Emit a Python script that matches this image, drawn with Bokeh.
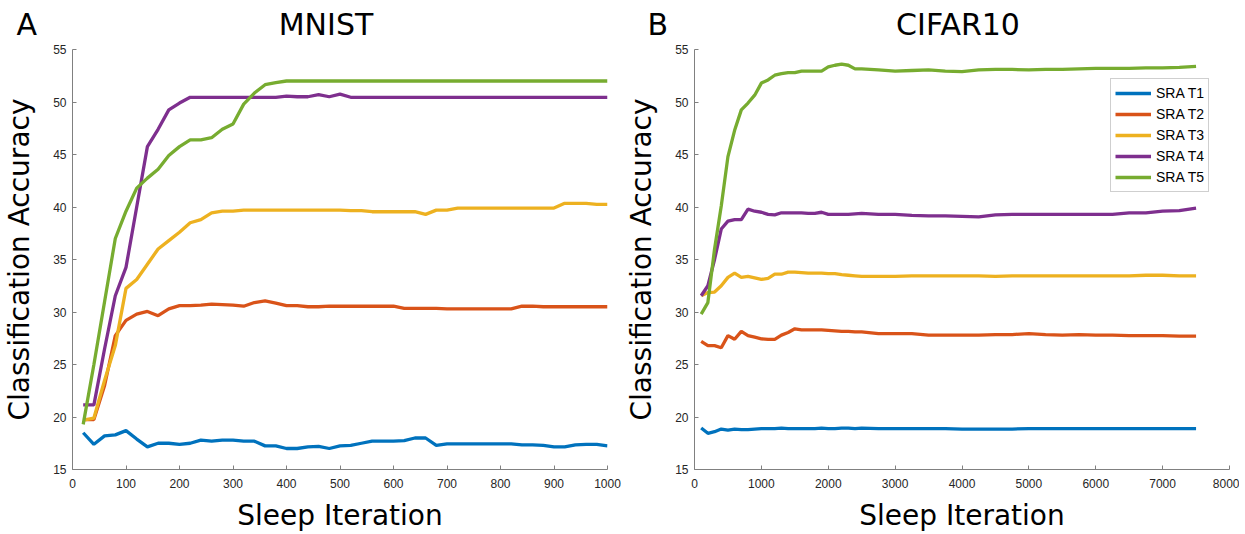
from bokeh.plotting import figure
from bokeh.layouts import row, column
from bokeh.models import Legend, LegendItem, FixedTicker, Range1d
from bokeh.core.properties import value
from bokeh.embed import file_html
from bokeh.resources import INLINE

# ---------------- data ----------------
series_names = ["SRA T1", "SRA T2", "SRA T3", "SRA T4", "SRA T5"]
colors = ["#0072BD", "#D95319", "#EDB120", "#7E2F8E", "#77AC30"]
panel_letters = ["A", "B"]
panel_titles = ["MNIST", "CIFAR10"]

mnist_iter = list(range(20, 1001, 20))
mnist_t1 = [18.5, 17.4, 18.2, 18.3, 18.7, 17.9, 17.15, 17.5, 17.5, 17.4,
            17.5, 17.8, 17.7, 17.8, 17.8, 17.7, 17.7, 17.25, 17.25, 17.0,
            17.0, 17.15, 17.2, 17.0, 17.25, 17.3, 17.5, 17.7, 17.7, 17.7,
            17.75, 18.0, 18.0, 17.3, 17.45, 17.45, 17.45, 17.45, 17.45, 17.45,
            17.45, 17.35, 17.35, 17.3, 17.15, 17.15, 17.35, 17.4, 17.4, 17.25]
mnist_t2 = [19.75, 19.75, 23.0, 27.75, 29.2, 29.8, 30.05, 29.65, 30.3, 30.6,
            30.6, 30.65, 30.75, 30.7, 30.65, 30.55, 30.9, 31.05, 30.85, 30.6,
            30.6, 30.5, 30.5, 30.55, 30.55, 30.55, 30.55, 30.55, 30.55, 30.55,
            30.35, 30.35, 30.35, 30.35, 30.3, 30.3, 30.3, 30.3, 30.3, 30.3,
            30.3, 30.55, 30.55, 30.5, 30.5, 30.5, 30.5, 30.5, 30.5, 30.5]
mnist_t3 = [19.7, 19.9, 23.5, 26.8, 32.25, 33.1, 34.55, 36.0, 36.8, 37.6,
            38.5, 38.8, 39.45, 39.6, 39.6, 39.7, 39.7, 39.7, 39.7, 39.7,
            39.7, 39.7, 39.7, 39.7, 39.7, 39.65, 39.65, 39.55, 39.55, 39.55,
            39.55, 39.55, 39.3, 39.7, 39.7, 39.9, 39.9, 39.9, 39.9, 39.9,
            39.9, 39.9, 39.9, 39.9, 39.9, 40.35, 40.35, 40.35, 40.25, 40.25]
mnist_t4 = [21.15, 21.15, 26.5, 31.55, 34.25, 40.0, 45.75, 47.4, 49.25, 49.9,
            50.45, 50.45, 50.45, 50.45, 50.45, 50.45, 50.45, 50.45, 50.45, 50.55,
            50.5, 50.5, 50.7, 50.5, 50.75, 50.45, 50.45, 50.45, 50.45, 50.45,
            50.45, 50.45, 50.45, 50.45, 50.45, 50.45, 50.45, 50.45, 50.45, 50.45,
            50.45, 50.45, 50.45, 50.45, 50.45, 50.45, 50.45, 50.45, 50.45, 50.45]
mnist_t5 = [19.3, 25.0, 31.0, 37.0, 39.6, 41.8, 42.75, 43.6, 44.9, 45.75,
            46.4, 46.4, 46.6, 47.4, 47.9, 49.8, 50.85, 51.65, 51.85, 52.0,
            52.0, 52.0, 52.0, 52.0, 52.0, 52.0, 52.0, 52.0, 52.0, 52.0,
            52.0, 52.0, 52.0, 52.0, 52.0, 52.0, 52.0, 52.0, 52.0, 52.0,
            52.0, 52.0, 52.0, 52.0, 52.0, 52.0, 52.0, 52.0, 52.0, 52.0]

cifar_iter = [100, 200, 300, 400, 500, 600, 700, 800, 900, 1000,
              1100, 1200, 1300, 1400, 1500, 1600, 1700, 1800, 1900, 2000,
              2100, 2200, 2300, 2400, 2500, 2750, 3000, 3250, 3500, 3750,
              4000, 4250, 4500, 4750, 5000, 5250, 5500, 5750, 6000, 6250,
              6500, 6750, 7000, 7250, 7500]
cifar_t1 = [18.95, 18.45, 18.6, 18.85, 18.75, 18.85, 18.8, 18.8, 18.85, 18.9,
            18.9, 18.9, 18.95, 18.9, 18.9, 18.9, 18.9, 18.9, 18.95, 18.9,
            18.9, 18.95, 18.95, 18.9, 18.95, 18.9, 18.9, 18.9, 18.9, 18.9,
            18.85, 18.85, 18.85, 18.85, 18.9, 18.9, 18.9, 18.9, 18.9, 18.9,
            18.9, 18.9, 18.9, 18.9, 18.9]
cifar_t2 = [27.2, 26.8, 26.8, 26.6, 27.75, 27.4, 28.15, 27.75, 27.6, 27.45,
            27.4, 27.4, 27.8, 28.05, 28.4, 28.3, 28.3, 28.3, 28.3, 28.25,
            28.2, 28.15, 28.15, 28.1, 28.1, 27.95, 27.95, 27.95, 27.8, 27.8,
            27.8, 27.8, 27.85, 27.85, 27.95, 27.85, 27.8, 27.85, 27.8, 27.8,
            27.75, 27.75, 27.75, 27.7, 27.7]
cifar_t3 = [31.55, 31.85, 31.9, 32.5, 33.3, 33.7, 33.3, 33.4, 33.25, 33.1,
            33.2, 33.6, 33.6, 33.8, 33.8, 33.75, 33.7, 33.7, 33.7, 33.65,
            33.65, 33.55, 33.5, 33.45, 33.4, 33.4, 33.4, 33.45, 33.45, 33.45,
            33.45, 33.45, 33.4, 33.45, 33.45, 33.45, 33.45, 33.45, 33.45, 33.45,
            33.45, 33.5, 33.5, 33.45, 33.45]
cifar_t4 = [31.55, 32.5, 35.0, 37.9, 38.65, 38.8, 38.8, 39.8, 39.6, 39.5,
            39.3, 39.25, 39.45, 39.45, 39.45, 39.45, 39.4, 39.4, 39.5, 39.3,
            39.3, 39.3, 39.3, 39.35, 39.4, 39.3, 39.3, 39.2, 39.15, 39.15,
            39.1, 39.05, 39.25, 39.3, 39.3, 39.3, 39.3, 39.3, 39.3, 39.3,
            39.45, 39.45, 39.6, 39.65, 39.9]
cifar_t5 = [29.8, 30.9, 36.0, 40.1, 44.8, 47.3, 49.25, 49.9, 50.65, 51.8,
            52.1, 52.55, 52.7, 52.8, 52.8, 52.95, 52.95, 52.95, 52.95, 53.35,
            53.5, 53.6, 53.5, 53.15, 53.15, 53.05, 52.95, 53.0, 53.05, 52.95,
            52.9, 53.05, 53.1, 53.1, 53.05, 53.1, 53.1, 53.15, 53.2, 53.2,
            53.2, 53.25, 53.25, 53.3, 53.4]

y_ticks = [15, 20, 25, 30, 35, 40, 45, 50, 55]
mnist_x_ticks = [0, 100, 200, 300, 400, 500, 600, 700, 800, 900, 1000]
cifar_x_ticks = [0, 1000, 2000, 3000, 4000, 5000, 6000, 7000, 8000]

# ---------------- layout constants ----------------
FRAME_W, FRAME_H = 535, 420
HEADER_H = 42
TOP_B, BOTTOM_B = 7, 65
L1, R1 = 72, 15
L2, R2 = 68, 10
W1 = L1 + FRAME_W + R1
W2 = L2 + FRAME_W + R2
TOTAL_W = W1 + W2
F1_LEFT = L1
F2_LEFT = W1 + L2
HDR_TEXT_MID = 18.5


def make_fig(mbl, mbr, xmax, xticks):
    p = figure(title=None, frame_width=FRAME_W, frame_height=FRAME_H,
               x_range=Range1d(0, xmax), y_range=Range1d(15, 55),
               output_backend="svg", toolbar_location=None,
               min_border_left=mbl, min_border_right=mbr,
               min_border_top=TOP_B, min_border_bottom=BOTTOM_B)
    p.outline_line_color = None
    p.grid.visible = False
    p.background_fill_color = "white"
    p.border_fill_color = "white"
    for ax in (p.xaxis[0], p.yaxis[0]):
        ax.axis_line_color = "#808080"
        ax.axis_line_width = 1
        ax.major_tick_line_color = "#808080"
        ax.major_tick_in = 4
        ax.major_tick_out = 0
        ax.minor_tick_line_color = None
        ax.major_label_text_font = "Liberation Sans"
        ax.major_label_text_font_size = "12px"
        ax.major_label_text_color = "#262626"
        ax.axis_label_text_font = "DejaVu Sans"
        ax.axis_label_text_font_size = "28px"
        ax.axis_label_text_font_style = "normal"
        ax.axis_label_text_color = "black"
    p.xaxis.ticker = FixedTicker(ticks=xticks)
    p.yaxis.ticker = FixedTicker(ticks=y_ticks)
    p.xaxis.axis_label = "Sleep Iteration"
    p.yaxis.axis_label = "Classification Accuracy"
    p.xaxis.major_label_standoff = 9
    p.yaxis.major_label_standoff = 6
    p.xaxis.axis_label_standoff = 8
    p.yaxis.axis_label_standoff = 14
    return p


# header with panel letters and titles
hdr = figure(title=None, width=TOTAL_W, height=HEADER_H, x_range=Range1d(0, TOTAL_W),
             y_range=Range1d(0, HEADER_H), output_backend="svg", toolbar_location=None,
             x_axis_type=None, y_axis_type=None, min_border=0)
hdr.outline_line_color = None
hdr.grid.visible = False
hdr.text(x=[F1_LEFT - 56, F2_LEFT - 43], y=[HDR_TEXT_MID, HDR_TEXT_MID], text=panel_letters,
         text_font=value("DejaVu Sans"), text_font_size=value("30px"),
         text_align="left", text_baseline="middle", text_color="black")
hdr.text(x=[F1_LEFT + FRAME_W / 2 - 14, F2_LEFT + FRAME_W / 2], y=[HDR_TEXT_MID, HDR_TEXT_MID],
         text=panel_titles,
         text_font=value("DejaVu Sans"), text_font_size=value("30px"),
         text_align="center", text_baseline="middle", text_color="black")

p1 = make_fig(L1, R1, 1000, mnist_x_ticks)
for ys, c in zip([mnist_t1, mnist_t2, mnist_t3, mnist_t4, mnist_t5], colors):
    p1.line(mnist_iter, ys, line_color=c, line_width=3.3)

p2 = make_fig(L2, R2, 8000, cifar_x_ticks)
items = []
for ys, c, n in zip([cifar_t1, cifar_t2, cifar_t3, cifar_t4, cifar_t5], colors, series_names):
    r = p2.line(cifar_iter, ys, line_color=c, line_width=3.3)
    items.append(LegendItem(label=n, renderers=[r]))
legend = Legend(items=items, location=(416, 277))
legend.label_text_font = "Liberation Sans"
legend.label_text_font_size = "14px"
legend.label_text_color = "black"
legend.glyph_width = 36
legend.glyph_height = 20
legend.label_height = 20
legend.spacing = 1
legend.padding = 4
legend.margin = 0
legend.label_standoff = 5
legend.border_line_color = "#a0a0a0"
legend.border_line_width = 1
legend.background_fill_color = "white"
legend.background_fill_alpha = 1.0
p2.add_layout(legend)

layout = column(hdr, row(p1, p2))
open("out.html", "w").write(file_html(layout, INLINE))
